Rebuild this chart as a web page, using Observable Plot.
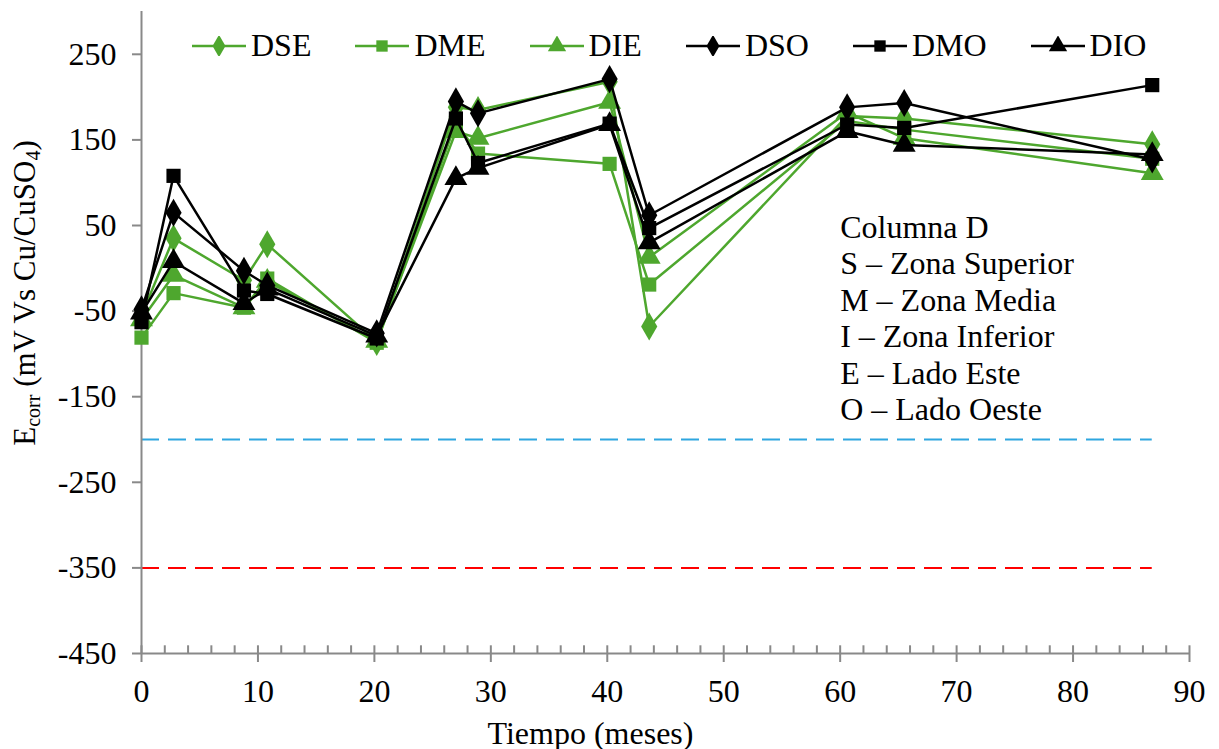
<!DOCTYPE html>
<html>
<head>
<meta charset="utf-8">
<script src="https://cdn.jsdelivr.net/npm/d3@7"></script>
<script src="https://cdn.jsdelivr.net/npm/@observablehq/plot@0.6"></script>
<style>
  html, body { margin: 0; padding: 0; background: #fff; }
  #wrap { position: relative; width: 1219px; height: 749px; font-family: 'Liberation Serif', 'DejaVu Serif', serif; }
  #legend { position: absolute; left: 192px; top: 27px; display: flex; align-items: center; font-size: 32px; color: #000; }
  .item { display: flex; align-items: center; margin-right: 44px; }
  .item span { margin-left: 5px; }
</style>
</head>
<body>
<div id="wrap"></div>
<script>
// ---- data ----
const months = [0, 2.75, 8.8, 10.8, 20.2, 27, 28.9, 40.2, 43.6, 60.6, 65.5, 86.8];
const DSE = [-55, 35, -14, 28, -86, 188, 185, 218, -68, 178, 175, 145];
const DME = [-81, -29, -46, -12, -87, 170, 134, 122, -19, 172, 162, 128];
const DIE = [-60, -8, -46, -15, -85, 160, 152, 194, 13, 182, 152, 111];
const DSO = [-48, 65, -3, -20, -76, 195, 181, 221, 62, 188, 193, 127];
const DMO = [-63, 108, -26, -30, -82, 175, 123, 169, 47, 168, 164, 214];
const DIO = [-52, 8, -41, -24, -79, 105, 117, 168, 30, 160, 144, 133];
const seriesNames = ["DSE", "DME", "DIE", "DSO", "DMO", "DIO"];
const seriesValues = [DSE, DME, DIE, DSO, DMO, DIO];
const seriesSymbols = ["diamond", "square", "triangle", "diamond", "square", "triangle"];
const green = "#4ea72e";
const seriesColors = [green, green, green, "#000000", "#000000", "#000000"];
const yTicks = [-450, -350, -250, -150, -50, 50, 150, 250];
const xTicks = [0, 10, 20, 30, 40, 50, 60, 70, 80, 90];
const xMinor = d3.range(0, 91, 2);
const refLevels = [-200, -350];
const refColors = ["#2ea6df", "#ff0000"];
const notes = ["Columna D", "S – Zona Superior", "M – Zona Media", "I – Zona Inferior", "E – Lado Este", "O – Lado Oeste"];

const rows = seriesNames.flatMap((s, i) => months.map((m, j) => ({series: s, month: m, value: seriesValues[i][j]})));
const grey = "#898989";
const symbolR = {diamond: 8.5, square: 8, triangle: 8.5};
const font = "'Liberation Serif', 'DejaVu Serif', serif";

const marks = [
  Plot.ruleY(refLevels.map((v, i) => ({v, c: refColors[i]})), {y: "v", x1: 0, x2: months[months.length - 1], stroke: "c", strokeWidth: 2, strokeDasharray: "18,9"}),
  Plot.ruleY([-450], {x1: 0, x2: 90, stroke: grey, strokeWidth: 2}),
  Plot.ruleX([0], {y1: -450, y2: 300, stroke: grey, strokeWidth: 2}),
  Plot.ruleX(xMinor, {y1: -450, y2: -441, stroke: grey, strokeWidth: 2}),
  Plot.axisX({ticks: xTicks, tickSize: 9, stroke: grey, strokeWidth: 2, color: "black", tickPadding: 17, label: null, fontSize: 32}),
  Plot.axisY({ticks: yTicks, tickSize: 9, stroke: grey, strokeWidth: 2, color: "black", tickPadding: 16, label: null, fontSize: 32, tickFormat: d => String(d)}),
];
seriesNames.forEach((s, i) => {
  const data = rows.filter(d => d.series === s);
  marks.push(Plot.line(data, {x: "month", y: "value", stroke: seriesColors[i], strokeWidth: 2.5}));
  marks.push(Plot.dot(data, {x: "month", y: "value", symbol: () => seriesSymbols[i], fill: seriesColors[i], stroke: "none", r: symbolR[seriesSymbols[i]]}));
});
marks.push(Plot.text([notes.join("\n")], {x: 60, y: 66, text: d => d, textAnchor: "start", lineAnchor: "top", lineHeight: 1.14, fontSize: 32, fill: "black"}));
marks.push(Plot.text(["Tiempo (meses)"], {frameAnchor: "bottom", dy: 90, dx: -75, text: d => d, fontSize: 32, fill: "black"}));

const chart = Plot.plot({
  width: 1219,
  height: 749,
  marginLeft: 141,
  marginRight: 30,
  marginTop: 11,
  marginBottom: 96,
  style: {fontFamily: font, fontSize: "32px", background: "white", color: "black", overflow: "visible"},
  x: {domain: [0, 90]},
  y: {domain: [-450, 300]},
  symbol: {type: "identity"},
  marks
});
document.getElementById("wrap").appendChild(chart);

// rotated y-axis title with subscripts
const svg = d3.select(chart);
const t = svg.append("text")
  .attr("transform", "translate(28,293) rotate(-90)")
  .attr("text-anchor", "middle")
  .attr("dominant-baseline", "middle")
  .attr("font-size", 31)
  .attr("font-family", font)
  .attr("fill", "black");
t.append("tspan").text("E");
t.append("tspan").attr("font-size", 20).attr("dy", 7).text("corr");
t.append("tspan").attr("dy", -7).text(" (mV Vs Cu/CuSO");
t.append("tspan").attr("font-size", 20).attr("dy", 7).text("4");
t.append("tspan").attr("dy", -7).text(")");

// legend
const legend = d3.select("#wrap").append("div").attr("id", "legend");
seriesNames.forEach((s, i) => {
  const item = legend.append("div").attr("class", "item");
  const sv = item.append("svg").attr("width", 54).attr("height", 20);
  sv.append("line").attr("x1", 0).attr("x2", 54).attr("y1", 10).attr("y2", 10).attr("stroke", seriesColors[i]).attr("stroke-width", 2.5);
  const sym = {diamond: d3.symbolDiamond, square: d3.symbolSquare, triangle: d3.symbolTriangle}[seriesSymbols[i]];
  const r = symbolR[seriesSymbols[i]] * 0.8;
  sv.append("path").attr("transform", "translate(27,10)").attr("d", d3.symbol(sym, Math.PI * r * r)()).attr("fill", seriesColors[i]);
  item.append("span").text(s);
});
</script>
</body>
</html>
